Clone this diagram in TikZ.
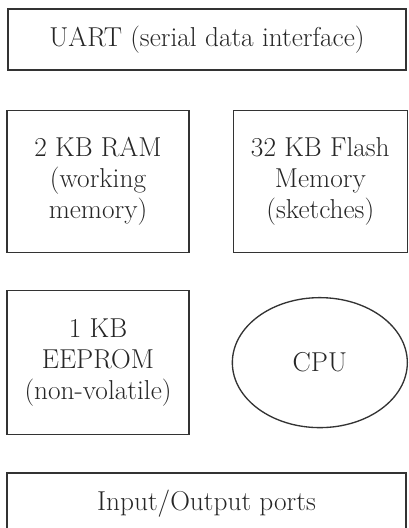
\documentclass[tikz,border=0pt]{standalone}
\usetikzlibrary{positioning,shapes.geometric}

\begin{document}
\begin{tikzpicture}[
    node distance=32pt,
    block/.style={rectangle, draw=black!80, line width=1pt, align=center, text=black!85, font=\fontsize{20.5}{23}\selectfont},
    core/.style={ellipse, draw=black!80, line width=1pt, inner sep=0pt, text=black!85, font=\fontsize{20.5}{23}\selectfont}
]
\useasboundingbox (0,0) rectangle (306pt,-396pt);
\clip (0,0) rectangle (306pt,-396pt);

% Top bus
\node[block, minimum width=298.5pt, minimum height=45.75pt] (uart) at (155.25pt,-29.6pt) {UART (serial data interface)};

% Memories
\node[block, minimum width=136.5pt, minimum height=106.5pt, below=29.25pt of uart.south west, anchor=north west, xshift=-0.75pt] (ram) {2 KB RAM\\(working\\memory)};
\node[block, minimum width=130.5pt, minimum height=106.5pt, right=32.25pt of ram] (flash) {32 KB Flash\\Memory\\(sketches)};
\node[block, minimum width=136.5pt, minimum height=108pt, below=27.75pt of ram] (eeprom) {1 KB\\EEPROM\\(non-volatile)};

% Processor
\node[core, minimum width=131.25pt, minimum height=97.5pt, right=31.5pt of eeprom] (cpu) {CPU};

% Bottom ports (runs past the lower edge)
\node[block, minimum width=299.25pt, inner ysep=0pt, text height=28.5pt, text depth=40pt, below=27.75pt of eeprom.south west, anchor=north west] (io) {Input/Output ports};

\end{tikzpicture}
\end{document}
